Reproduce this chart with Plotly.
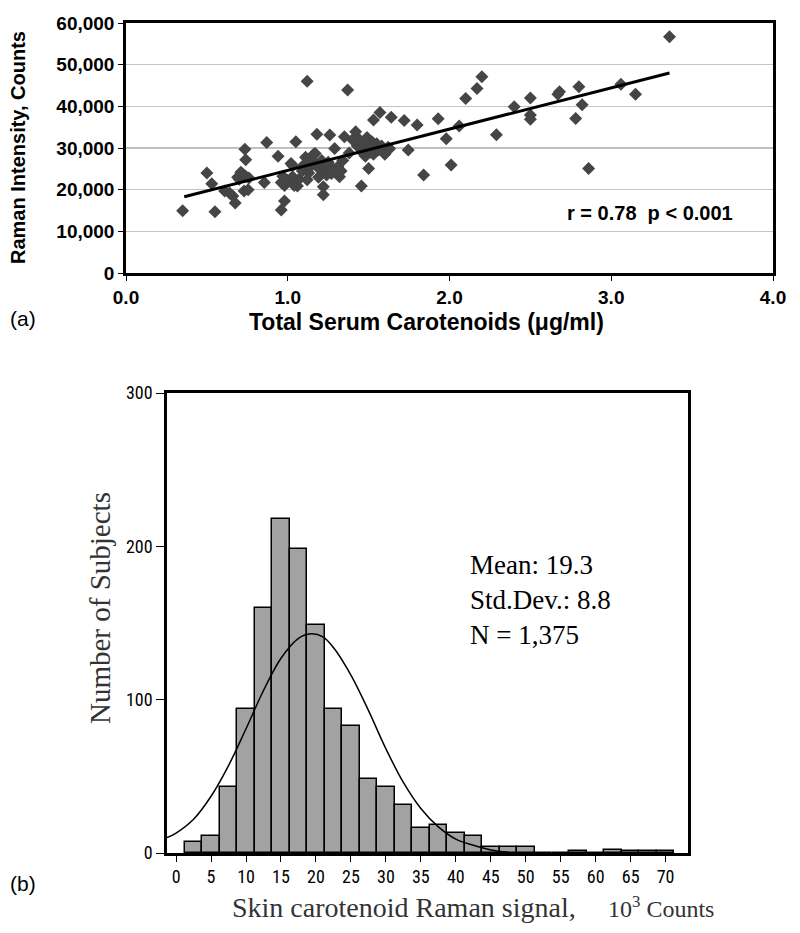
import plotly.graph_objects as go

# ---------------- Panel (a) data ----------------
serum = [0.35, 0.50, 0.53, 0.55, 0.61, 0.64, 0.66, 0.675, 0.69, 0.70, 0.71, 0.72, 0.735, 0.74, 0.74,
         0.73, 0.755, 0.76, 0.855, 0.87, 0.94, 0.96, 0.98, 0.96, 0.97, 0.98, 1.00, 1.02, 1.03, 1.05,
         1.03, 1.04, 1.06, 1.07, 1.09, 1.10, 1.12, 1.11, 1.12, 1.13, 1.14, 1.15, 1.16, 1.17, 1.18,
         1.18, 1.19, 1.20, 1.21, 1.22, 1.22, 1.23, 1.24, 1.25, 1.26, 1.27, 1.28, 1.29, 1.30, 1.31,
         1.32, 1.33, 1.34, 1.35, 1.37, 1.38, 1.40, 1.42, 1.43, 1.445, 1.455, 1.46, 1.47, 1.48, 1.49,
         1.50, 1.50, 1.51, 1.52, 1.53, 1.53, 1.54, 1.55, 1.56, 1.57, 1.58, 1.60, 1.62, 1.63, 1.64,
         1.72, 1.745, 1.80, 1.84, 1.93, 1.98, 2.01, 2.06, 2.10, 2.17, 2.20, 2.29, 2.40, 2.50, 2.50,
         2.50, 2.67, 2.68, 2.78, 2.80, 2.82, 2.86, 3.06, 3.15, 3.36]
raman = [14950, 24000, 21400, 14700, 19700, 19200, 18500, 16800, 23000, 22500, 24200, 23800, 29700, 27200, 23200,
         19700, 20000, 22800, 21700, 31300, 28000, 15100, 17300, 21700, 23200, 21000, 22200, 26300, 25800, 31500,
         23100, 21000, 20900, 22500, 24500, 26000, 46000, 27800, 22400, 24000, 25500, 27000, 28500, 28700, 33300,
         26000, 23000, 24800, 27000, 20700, 18800, 25500, 23500, 26600, 33100, 23900, 25000, 29900, 24000, 25500,
         23100, 24500, 27000, 32700, 43900, 28800, 32000, 33900, 30500, 31900, 20900, 29000, 31000, 28000, 32500,
         25100, 30500, 29000, 31500, 36700, 28500, 30000, 31000, 29500, 38500, 30500, 28500, 30200, 29800, 37400,
         36600, 29500, 35500, 23500, 37000, 32200, 25900, 35300, 41900, 44300, 47100, 33200, 39900, 42000, 37900,
         36900, 42900, 43500, 37100, 44700, 40400, 25100, 45300, 42900, 56700]
trend_x = [0.36, 3.36]
trend_y = [18300, 48000]
a_xticks = [0, 1, 2, 3, 4]
a_xticklabels = ["0.0", "1.0", "2.0", "3.0", "4.0"]
a_yticks = [0, 10000, 20000, 30000, 40000, 50000, 60000]

# ---------------- Panel (b) data ----------------
bin_centers = [2.5, 5, 7.5, 10, 12.5, 15, 17.5, 20, 22.5, 25, 27.5, 30, 32.5, 35, 37.5, 40, 42.5,
               45, 47.5, 50, 52.5, 55, 57.5, 60, 62.5, 65, 67.5, 70]
counts = [7, 11, 43, 94, 160, 218, 198, 149, 94, 83, 48, 43, 31, 16, 18, 13, 11,
          4, 4, 4, 0, 0, 1, 0, 2, 1, 1, 1]
curve_x = [-1.3, 0, 2.5, 5, 7.5, 10, 12.5, 15, 17.5, 19.3, 21, 22.5, 25, 27.5, 30, 32.5, 35,
           37.5, 40, 42.5, 45, 47.5]
curve_y = [10, 13, 22, 37, 57, 81, 106, 127, 140, 143, 141, 134, 116, 93, 68, 46, 29,
           17, 9, 5, 2, 0.5]
b_xticks = list(range(0, 75, 5))
b_yticks = [0, 100, 200, 300]

# The page body has an 8px margin; the figure is sized to fit the window.
OFF = 8
W, H = 800 - OFF, 933 - OFF
def px(p):
    return (p - OFF) / W
def py(p):
    return 1 - (p - OFF) / H

fig = go.Figure()

# Panel (a)
fig.add_trace(go.Scatter(x=serum, y=raman, mode="markers", xaxis="x", yaxis="y",
                         marker=dict(symbol="diamond", size=10, color="#454545"),
                         showlegend=False))
fig.add_trace(go.Scatter(x=trend_x, y=trend_y, mode="lines", xaxis="x", yaxis="y",
                         line=dict(color="black", width=3), showlegend=False))

# Panel (b)
fig.add_trace(go.Bar(x=bin_centers, y=counts, width=2.5, xaxis="x2", yaxis="y2",
                     marker=dict(color="#a2a2a2", line=dict(color="black", width=1.5)),
                     showlegend=False))
fig.add_trace(go.Scatter(x=curve_x, y=curve_y, mode="lines", xaxis="x2", yaxis="y2",
                         line=dict(color="black", width=1.5, shape="spline"), showlegend=False))

bold_font = dict(family="Liberation Sans, Arial, sans-serif", size=19, color="black", weight="bold")
narrow_font = dict(family="Liberation Sans Narrow, Roboto Condensed, Liberation Sans, Arial", size=18,
                   color="black")

fig.update_layout(
    width=W, height=H,
    margin=dict(l=0, r=0, t=0, b=0, autoexpand=False),
    paper_bgcolor="white", plot_bgcolor="white",
    xaxis=dict(domain=[px(126), px(773)], range=[0, 4], tickvals=a_xticks, ticktext=a_xticklabels,
               showgrid=False, zeroline=False, showline=True, linecolor="black", linewidth=2.5,
               mirror=True, ticks="outside", ticklen=5, tickcolor="black", tickfont=bold_font,
               anchor="y", automargin=False),
    yaxis=dict(domain=[py(273), py(23)], range=[0, 60000], tickvals=a_yticks, tickformat=",",
               showgrid=True, gridcolor="#c4c4c4", gridwidth=1, zeroline=False,
               showline=True, linecolor="black", linewidth=2.5, mirror=True,
               ticks="outside", ticklen=5, tickcolor="black", tickfont=bold_font, anchor="x",
               automargin=False),
    xaxis2=dict(domain=[px(167), px(688)], range=[-1.3, 73.2], tickvals=b_xticks,
                showgrid=False, zeroline=False, showline=True, linecolor="black", linewidth=2.5,
                mirror=True, ticks="outside", ticklen=6, tickcolor="black", tickfont=narrow_font,
                anchor="y2", automargin=False),
    yaxis2=dict(domain=[py(853), py(393)], range=[0, 300], tickvals=b_yticks,
                showgrid=False, zeroline=False, showline=True, linecolor="black", linewidth=2.5,
                mirror=True, ticks="outside", ticklen=8, tickcolor="black", tickfont=narrow_font,
                anchor="x2", automargin=False),
    bargap=0,
)

# darker 30,000 gridline
fig.add_shape(type="line", xref="x domain", yref="y", x0=0, x1=1, y0=30000, y1=30000,
              line=dict(color="#7a7a7a", width=1.2), layer="below")

ann = []
ann.append(dict(text="<b>Raman Intensity, Counts</b>", x=px(18), y=py(148), textangle=-90,
                font=dict(family="Liberation Sans, Arial", size=20, color="black")))
ann.append(dict(text="<b>Total Serum Carotenoids (\u03bcg/ml)</b>", x=px(426), y=py(322),
                font=dict(family="Liberation Sans, Arial", size=23, color="black")))
ann.append(dict(text="<b>r = 0.78  p < 0.001</b>", x=px(650), y=py(213),
                font=dict(family="Liberation Sans, Arial", size=20, color="black")))
ann.append(dict(text="(a)", x=px(23), y=py(318),
                font=dict(family="Liberation Sans, Arial", size=21, color="black")))
ann.append(dict(text="(b)", x=px(23), y=py(883),
                font=dict(family="Liberation Sans, Arial", size=21, color="black")))
ann.append(dict(text="Number of Subjects", x=px(100), y=py(608), textangle=-90,
                font=dict(family="Liberation Serif, Times New Roman, serif", size=29, color="#333333")))
ann.append(dict(text="Skin carotenoid Raman signal,", x=px(404), y=py(907),
                font=dict(family="Liberation Serif, Times New Roman, serif", size=28, color="#333333")))
ann.append(dict(text="10<sup>3</sup> Counts", x=px(661), y=py(907),
                font=dict(family="Liberation Serif, Times New Roman, serif", size=24, color="#333333")))
stats_font = dict(family="Liberation Serif, Times New Roman, serif", size=27, color="black")
for txt, yy in [("Mean: 19.3", 565), ("Std.Dev.: 8.8", 600), ("N = 1,375", 635)]:
    ann.append(dict(text=txt, x=px(468), y=py(yy), xanchor="left", font=stats_font))

for a in ann:
    a.setdefault("xanchor", "center")
    a.update(xref="paper", yref="paper", yanchor="middle", showarrow=False)
    fig.add_annotation(**a)

fig.write_html("out.html")
